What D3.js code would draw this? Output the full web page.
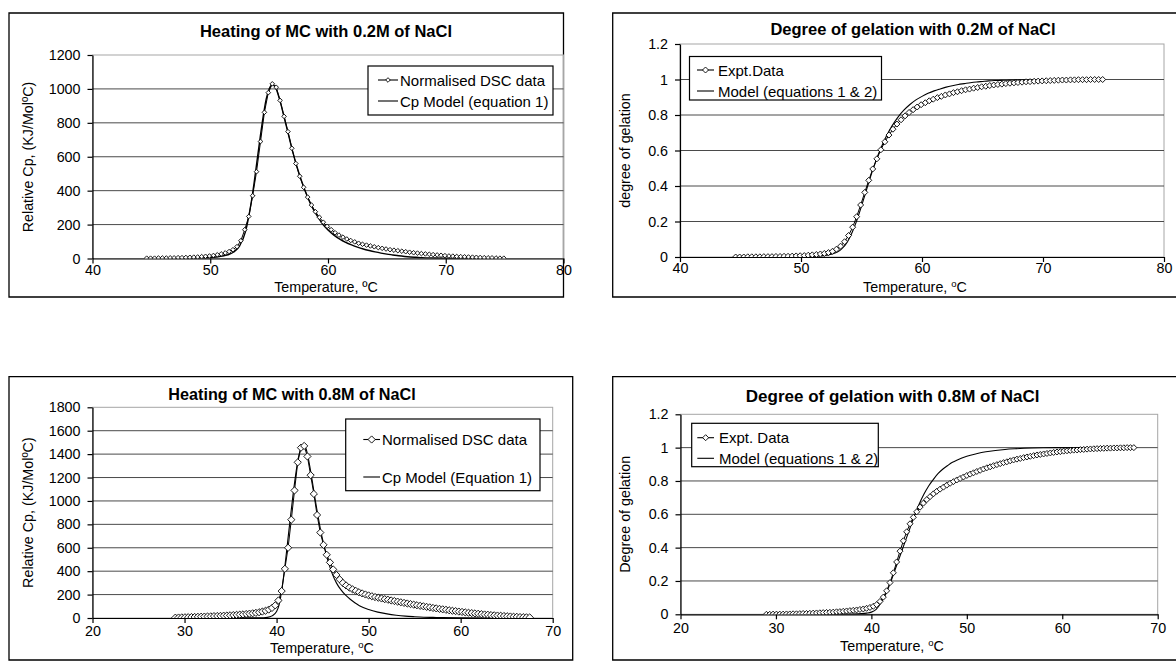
<!DOCTYPE html>
<html><head><meta charset="utf-8">
<script src="https://cdn.jsdelivr.net/npm/d3@7"></script>
<style>
html,body{margin:0;padding:0;background:#fff;}
svg{display:block;font-family:"Liberation Sans",Arial,sans-serif;}
</style></head><body>
<svg id="fig" width="1176" height="671"></svg>
<script>
// ---------- 0.2M NaCl : normalised DSC scan ----------
const tempLow = [44.60,44.93,45.27,45.60,45.93,46.27,46.60,46.93,47.27,47.60,
  47.93,48.27,48.60,48.93,49.27,49.60,49.93,50.27,50.60,50.93,
  51.27,51.60,51.93,52.27,52.60,52.93,53.27,53.60,53.93,54.27,
  54.60,54.93,55.27,55.60,55.93,56.27,56.60,56.93,57.27,57.60,
  57.93,58.27,58.60,58.93,59.27,59.60,59.93,60.27,60.60,60.93,
  61.27,61.60,61.93,62.27,62.60,62.93,63.27,63.60,63.93,64.27,
  64.60,64.93,65.27,65.60,65.93,66.27,66.60,66.93,67.27,67.60,
  67.93,68.27,68.60,68.93,69.27,69.60,69.93,70.27,70.60,70.93,
  71.27,71.60,71.93,72.27,72.60,72.93,73.27,73.60,73.93,74.27,
  74.60,74.93];
const cpLow = [2,2,2,3,3,3,4,4,5,5,
  6,7,8,9,11,13,15,18,22,27,
  33,41,52,70,105,170,248,370,512,690,
  862,978,1030,1010,932,838,748,650,560,485,
  420,362,315,276,243,214,190,170,152,138,
  126,115,106,98,90,84,79,74,69,64,
  60,56,52,49,46,43,40,37,34,32,
  29,27,25,23,21,19,17,15,14,12,
  11,10,9,8,7,6,5,4,4,3,
  2,2];
const gelLow = [0.000,0.000,0.000,0.001,0.001,0.001,0.001,0.002,0.002,0.002,
  0.003,0.003,0.004,0.004,0.005,0.006,0.007,0.008,0.010,0.012,
  0.014,0.017,0.020,0.025,0.032,0.044,0.061,0.086,0.121,0.168,
  0.227,0.293,0.364,0.432,0.496,0.553,0.604,0.649,0.687,0.720,
  0.749,0.773,0.795,0.814,0.830,0.845,0.858,0.869,0.880,0.889,
  0.898,0.905,0.913,0.919,0.926,0.931,0.937,0.942,0.946,0.951,
  0.955,0.959,0.962,0.966,0.969,0.972,0.974,0.977,0.979,0.981,
  0.983,0.985,0.987,0.988,0.990,0.991,0.992,0.993,0.994,0.995,
  0.996,0.997,0.997,0.998,0.998,0.999,0.999,0.999,1.000,1.000,
  1.000,1.000];

// model curves, 0.2M
const modelTempLow = [44.6,46,48,49,50,50.5,51,51.5,52,52.5,53,53.25,53.5,53.75,54,54.25,54.5,54.75,55,55.25,
  55.5,55.75,56,56.25,56.5,56.75,57,57.5,58,58.5,59,59.5,60,60.5,61,61.5,62,62.5,63,63.5,
  64,64.5,65,65.5,66,66.5,67,67.5,68,69,70,72,75];
const modelCpLow = [0,0.5,1.5,3,6,9,14,22,38,75,160,240,340,460,590,720,840,940,1000,1025,
  1015,970,910,840,770,700,630,510,410,325,260,208,168,138,114,95,80,67,56,47,
  39,32,26,21,16,12,9,7,5,3,1.5,0.5,0];
const modelGelLow = [0,0,0.001,0.001,0.002,0.003,0.004,0.006,0.009,0.016,0.028,0.039,0.055,0.077,0.106,0.142,0.185,0.234,0.287,0.342,
  0.398,0.453,0.504,0.552,0.597,0.637,0.673,0.736,0.787,0.827,0.859,0.885,0.905,0.922,0.936,0.947,0.957,0.965,0.972,0.977,
  0.982,0.986,0.989,0.992,0.994,0.995,0.996,0.997,0.998,0.999,0.999,1.000,1.000];

// ---------- 0.8M NaCl : normalised DSC scan ----------
const tempHigh = [29.00,29.35,29.70,30.05,30.40,30.75,31.10,31.45,31.80,32.15,
  32.50,32.85,33.20,33.55,33.90,34.25,34.60,34.95,35.30,35.65,
  36.00,36.35,36.70,37.05,37.40,37.75,38.10,38.45,38.80,39.15,
  39.50,39.85,40.20,40.55,40.90,41.25,41.60,41.95,42.30,42.65,
  43.00,43.35,43.70,44.05,44.40,44.75,45.10,45.45,45.80,46.15,
  46.50,46.85,47.20,47.55,47.90,48.25,48.60,48.95,49.30,49.65,
  50.00,50.35,50.70,51.05,51.40,51.75,52.10,52.45,52.80,53.15,
  53.50,53.85,54.20,54.55,54.90,55.25,55.60,55.95,56.30,56.65,
  57.00,57.35,57.70,58.05,58.40,58.75,59.10,59.45,59.80,60.15,
  60.50,60.85,61.20,61.55,61.90,62.25,62.60,62.95,63.30,63.65,
  64.00,64.35,64.70,65.05,65.40,65.75,66.10,66.45,66.80,67.15,
  67.50];
const cpHigh = [3,4,5,6,7,8,9,10,11,12,
  13,14,16,17,18,20,21,23,25,27,
  29,31,34,37,40,44,49,55,62,72,
  86,108,150,230,420,600,840,1090,1330,1455,
  1470,1380,1220,1060,880,730,625,540,475,415,
  368,330,300,278,260,245,232,220,210,201,
  193,186,179,173,167,161,156,150,145,140,
  134,129,124,119,114,109,104,100,95,91,
  86,82,78,74,70,66,62,59,55,52,
  48,45,42,39,36,33,30,28,25,23,
  21,19,17,15,13,11,10,8,7,6,
  5];
const gelHigh = [0.000,0.000,0.001,0.001,0.001,0.001,0.002,0.002,0.003,0.003,
  0.004,0.005,0.005,0.006,0.007,0.008,0.009,0.010,0.011,0.012,
  0.013,0.015,0.016,0.018,0.020,0.022,0.024,0.026,0.029,0.032,
  0.036,0.041,0.048,0.058,0.077,0.103,0.141,0.190,0.249,0.314,
  0.379,0.441,0.495,0.543,0.582,0.615,0.643,0.667,0.688,0.706,
  0.723,0.738,0.751,0.763,0.775,0.786,0.796,0.806,0.815,0.824,
  0.833,0.841,0.849,0.857,0.864,0.872,0.879,0.885,0.892,0.898,
  0.904,0.910,0.915,0.921,0.926,0.931,0.935,0.940,0.944,0.948,
  0.952,0.956,0.959,0.962,0.965,0.968,0.971,0.974,0.976,0.979,
  0.981,0.983,0.985,0.986,0.988,0.989,0.991,0.992,0.993,0.994,
  0.995,0.996,0.997,0.997,0.998,0.998,0.999,0.999,1.000,1.000,
  1.000];

// model curves, 0.8M
const modelTempHigh = [29,35,37,38,38.5,39,39.5,40,40.3,40.6,40.9,41.2,41.5,41.8,42.1,42.4,42.7,43,43.3,43.6,
  43.9,44.2,44.5,44.8,45.1,45.4,45.7,46,46.5,47,47.5,48,48.5,49,50,51,52,53,54,55,
  56,57,58,60,63,67.5];
const modelCpHigh = [0,0.5,1,1,2,5,18,55,120,260,440,650,860,1060,1240,1380,1460,1475,1420,1300,
  1160,1010,870,745,635,540,458,388,300,240,195,160,130,105,72,50,35,24,16,11,
  7,5,3,1,0,0];
const modelGelTempHigh = [29,36,38,39,39.5,40,40.5,41,41.5,42,42.5,43,43.5,44,44.5,45,45.5,46,46.5,47,
  47.5,48,48.5,49,50,51,52,53,54,55,56,58,60,67.5];
const modelGelHigh = [0,0.001,0.002,0.004,0.007,0.013,0.030,0.068,0.120,0.190,0.270,0.350,0.430,0.510,0.590,0.660,0.720,0.770,0.810,0.845,
  0.872,0.893,0.912,0.926,0.948,0.963,0.975,0.983,0.989,0.993,0.996,0.999,1.000,1.000];

// axis ticks
const cpTicksLow = [0,200,400,600,800,1000,1200];
const cpTicksHigh = [0,200,400,600,800,1000,1200,1400,1600,1800];
const gelTicks = [0,0.2,0.4,0.6,0.8,1,1.2];
const tempTicksLow = [40,50,60,70,80];
const tempTicksHigh = [20,30,40,50,60,70];

const svg = d3.select("#fig");
const FONT = 15;        // legend text
const AXFONT = 14.3;    // tick labels and axis titles

function diamond(r) {
  return `M0,${-r}L${r},0L0,${r}L${-r},0Z`;
}

function drawPanel(p) {
  const g = svg.append("g");
  const x = d3.scaleLinear().domain(p.xDomain).range([p.plot[0], p.plot[2]]);
  const y = d3.scaleLinear().domain(p.yDomain).range([p.plot[3], p.plot[1]]);

  // chart area frame
  const f = p.frame;
  g.append("path")
    .attr("d", `M${f[0]},${f[1]}H${f[2]}V${f[3]}H${f[0]}Z`)
    .attr("fill", "none").attr("stroke", "#000").attr("stroke-width", 1.3);

  // plot area border
  g.append("rect")
    .attr("x", p.plot[0]).attr("y", p.plot[1])
    .attr("width", p.plot[2] - p.plot[0]).attr("height", p.plot[3] - p.plot[1])
    .attr("fill", "none").attr("stroke", "#a6a6a6").attr("stroke-width", 1);

  // horizontal gridlines
  g.selectAll("line.grid").data(p.yTicks.filter(v => v > p.yDomain[0] && v < p.yDomain[1]))
    .join("line").attr("class", "grid")
    .attr("x1", p.plot[0]).attr("x2", p.plot[2])
    .attr("y1", d => y(d)).attr("y2", d => y(d))
    .attr("stroke", "#4a4a4a").attr("stroke-width", 1);

  // axes
  const xAxis = g.append("g").attr("transform", `translate(0,${p.plot[3]})`)
    .call(d3.axisBottom(x).tickValues(p.xTicks).tickSize(5).tickSizeOuter(0).tickPadding(p.xPad).tickFormat(d => String(d)));
  const yAxis = g.append("g").attr("transform", `translate(${p.plot[0]},0)`)
    .call(d3.axisLeft(y).tickValues(p.yTicks).tickSize(5).tickSizeOuter(0).tickPadding(7).tickFormat(d => String(d)));
  [xAxis, yAxis].forEach(a => {
    a.select(".domain").attr("stroke", "#000").attr("stroke-width", 1.2);
    a.selectAll(".tick line").attr("stroke", "#000").attr("stroke-width", 1.2);
    a.selectAll(".tick text").attr("fill", "#000").style("font-size", AXFONT + "px")
      .style("font-family", '"Liberation Sans", Arial, sans-serif');
  });

  // title
  g.append("text").attr("x", p.titlePos[0]).attr("y", p.titlePos[1])
    .attr("text-anchor", "middle").style("font-weight", "bold").style("font-size", p.titleSize + "px")
    .text(p.title);

  // x axis title, with raised degree sign where the original uses it
  const xt = g.append("text").attr("x", p.xTitlePos[0]).attr("y", p.xTitlePos[1])
    .attr("text-anchor", "middle").style("font-size", AXFONT + "px");
  if (p.superDegree) {
    xt.append("tspan").text("Temperature, ");
    xt.append("tspan").attr("dy", -5).style("font-size", "9.5px").text("o");
    xt.append("tspan").attr("dy", 5).text("C");
  } else {
    xt.text("Temperature, \u00baC");
  }

  // y axis title
  g.append("text")
    .attr("transform", `translate(${p.yTitlePos[0]},${p.yTitlePos[1]}) rotate(-90)`)
    .attr("text-anchor", "middle").style("font-size", AXFONT + "px")
    .text(p.yTitle);

  const clip = "clip" + p.id;
  g.append("clipPath").attr("id", clip).append("rect")
    .attr("x", p.plot[0] - 6).attr("y", p.plot[1] - 6)
    .attr("width", p.plot[2] - p.plot[0] + 12).attr("height", p.plot[3] - p.plot[1] + 6);

  const series = g.append("g").attr("clip-path", `url(#${clip})`);

  // model curve
  const modelPts = p.modelX.map((t, i) => [t, p.modelY[i]]);
  series.append("path").datum(modelPts)
    .attr("fill", "none").attr("stroke", "#000").attr("stroke-width", p.modelWidth)
    .attr("d", d3.line().x(d => x(d[0])).y(d => y(d[1])).curve(d3.curveMonotoneX));

  // experimental data: line plus hollow diamonds
  const dataPts = p.dataX.map((t, i) => [t, p.dataY[i]]);
  series.append("path").datum(dataPts)
    .attr("fill", "none").attr("stroke", "#000").attr("stroke-width", 1)
    .attr("d", d3.line().x(d => x(d[0])).y(d => y(d[1])));
  series.selectAll("path.mk").data(dataPts).join("path").attr("class", "mk")
    .attr("transform", d => `translate(${x(d[0])},${y(d[1])})`)
    .attr("d", diamond(p.markerR))
    .attr("fill", "#fff").attr("stroke", "#000").attr("stroke-width", 0.9);

  // legend
  const L = p.legend;
  const lg = g.append("g");
  lg.append("rect").attr("x", L.box[0]).attr("y", L.box[1])
    .attr("width", L.box[2] - L.box[0]).attr("height", L.box[3] - L.box[1])
    .attr("fill", "#fff").attr("stroke", "#000").attr("stroke-width", 1.2);
  L.labels.forEach((lab, i) => {
    const yy = L.rows[i];
    lg.append("line").attr("x1", L.line[0]).attr("x2", L.line[1])
      .attr("y1", yy).attr("y2", yy).attr("stroke", "#000").attr("stroke-width", 1.1);
    if (i === 0) {
      lg.append("path").attr("transform", `translate(${(L.line[0] + L.line[1]) / 2},${yy})`)
        .attr("d", diamond(L.markerR)).attr("fill", "#fff").attr("stroke", "#000").attr("stroke-width", 0.9);
    }
    lg.append("text").attr("x", L.textX).attr("y", yy + 5.5)
      .style("font-size", FONT + "px").text(lab);
  });
}

drawPanel({
  id: "a", frame: [9, 13, 563.5, 297], plot: [92.5, 55, 563.5, 258.5],
  xDomain: [40, 80], yDomain: [0, 1200], xTicks: tempTicksLow, yTicks: cpTicksLow, xPad: 1,
  title: "Heating of MC with 0.2M of NaCl", titlePos: [326, 37], titleSize: 16.5,
  xTitlePos: [326, 292], superDegree: false,
  yTitle: "Relative Cp, (KJ/Mol\u00baC)", yTitlePos: [33, 157],
  dataX: tempLow, dataY: cpLow, modelX: modelTempLow, modelY: modelCpLow,
  markerR: 2.3, modelWidth: 1.4,
  legend: { box: [368, 66, 553, 115], rows: [80, 101], line: [378, 398], textX: 400, markerR: 2.3,
    labels: ["Normalised DSC data", "Cp Model (equation 1)"] }
});

drawPanel({
  id: "b", frame: [612.7, 13, 1190, 297], plot: [680, 44, 1164, 257],
  xDomain: [40, 80], yDomain: [0, 1.2], xTicks: tempTicksLow, yTicks: gelTicks, xPad: 1,
  title: "Degree of gelation with 0.2M of NaCl", titlePos: [913, 35], titleSize: 16.5,
  xTitlePos: [915, 292], superDegree: true,
  yTitle: "degree of gelation", yTitlePos: [630, 150.5],
  dataX: tempLow, dataY: gelLow, modelX: modelTempLow, modelY: modelGelLow,
  markerR: 3, modelWidth: 1.1,
  legend: { box: [689.5, 56.5, 881.5, 100], rows: [70, 91], line: [697, 714], textX: 718, markerR: 3,
    labels: ["Expt.Data", "Model (equations 1 & 2)"] }
});

drawPanel({
  id: "c", frame: [9, 376.7, 572.7, 660], plot: [92.5, 407.3, 552.7, 618],
  xDomain: [20, 70], yDomain: [0, 1800], xTicks: tempTicksHigh, yTicks: cpTicksHigh, xPad: 3,
  title: "Heating of MC with 0.8M of NaCl", titlePos: [292, 399.5], titleSize: 16.2,
  xTitlePos: [322, 653], superDegree: true,
  yTitle: "Relative Cp, (KJ/Mol\u00baC)", yTitlePos: [33, 512.6],
  dataX: tempHigh, dataY: cpHigh, modelX: modelTempHigh, modelY: modelCpHigh,
  markerR: 3.6, modelWidth: 1.1,
  legend: { box: [345.7, 419, 540, 490.7], rows: [439.5, 477], line: [363.3, 380], textX: 382, markerR: 3.6,
    labels: ["Normalised DSC data", "Cp Model (Equation 1)"] }
});

drawPanel({
  id: "d", frame: [612.7, 376.7, 1190, 660], plot: [680.5, 414.3, 1157.7, 614.3],
  xDomain: [20, 70], yDomain: [0, 1.2], xTicks: tempTicksHigh, yTicks: gelTicks, xPad: 4,
  title: "Degree of gelation with 0.8M of NaCl", titlePos: [892.7, 401.7], titleSize: 17,
  xTitlePos: [892, 651], superDegree: true,
  yTitle: "Degree of gelation", yTitlePos: [630, 514.3],
  dataX: tempHigh, dataY: gelHigh, modelX: modelGelTempHigh, modelY: modelGelHigh,
  markerR: 3, modelWidth: 1.1,
  legend: { box: [691.7, 423.3, 878.3, 466.7], rows: [437.7, 458.3], line: [697.3, 714], textX: 719, markerR: 3,
    labels: ["Expt. Data", "Model (equations 1 & 2)"] }
});
</script>
</body></html>
